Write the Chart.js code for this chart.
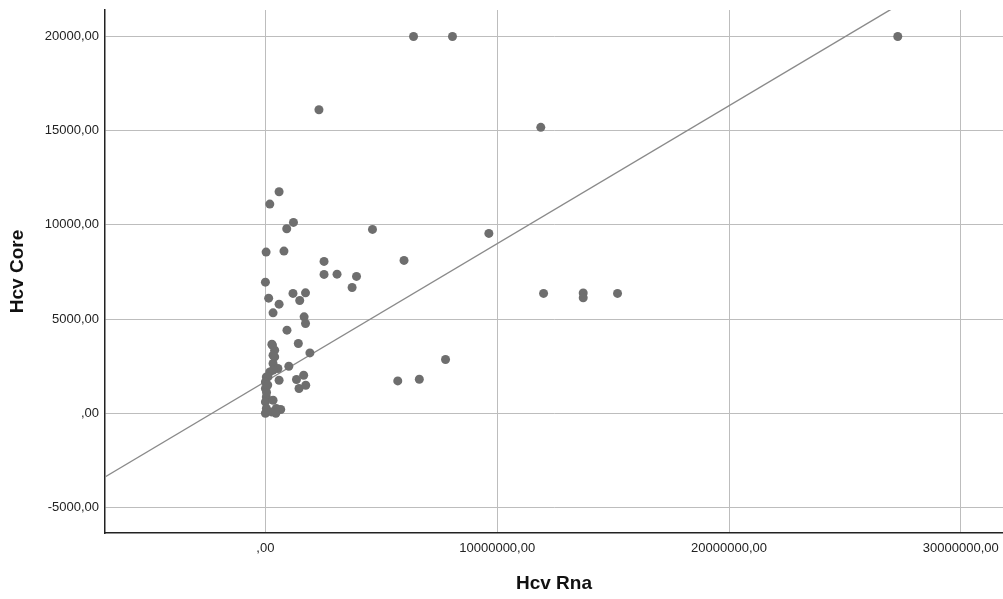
<!DOCTYPE html>
<html>
<head>
<meta charset="utf-8">
<script src="https://cdn.jsdelivr.net/npm/chart.js@4/dist/chart.umd.min.js"></script>
<style>
  body { margin: 0; background: #fff; }
  #wrap { width: 1003px; height: 599px; position: relative; }
</style>
</head>
<body>
<div id="wrap"><canvas id="canvas"></canvas></div>
<script>
// Hcv Rna (x) against Hcv Core (y)
var hcvRna = [
  6390000, 8070000, 27280000, 11880000, 2310000, 4620000, 9640000, 5980000, 3930000, 3740000,
  12000000, 13710000, 13710000, 15190000, 5710000, 6640000, 7770000, 590000, 190000, 1210000,
  920000, 30000, 800000, 2530000, 2530000, 3090000, 0, 1190000, 1730000, 1480000,
  140000, 590000, 330000, 1670000, 1730000, 930000, 280000, 1420000, 400000, 1920000,
  400000, 330000, 1010000, 540000, 190000, 40000, 590000, 1340000, 1650000, 1450000,
  1740000, 300000, 330000, 330000, 110000, 0, 0, 40000, 0, 330000,
  40000, 470000, 660000, 0, 260000, 450000, 100000, 50000
];
var hcvCore = [
  20000, 20000, 20000, 15180, 16115, 9760, 9548, 8113, 7263, 6678,
  6360, 6390, 6130, 6360, 1716, 1806, 2853, 11758, 11104, 10132,
  9792, 8554, 8607, 8060, 7369, 7385, 6960, 6360, 6392, 5988,
  6110, 5791, 5329, 5116, 4766, 4410, 3666, 3703, 3347, 3204,
  2991, 2640, 2497, 2375, 2194, 1929, 1753, 1790, 2019, 1312,
  1488, 3613, 3081, 2285, 1929, 1663, 1312, 866, 600, 690,
  248, 248, 195, 0, 69, 0, 1500, 1100
];

// fit line: y = a + b*x
var fitIntercept = 1683;
var fitSlope = 0.0007322;

var xTicks = [0, 10000000, 20000000, 30000000];
var xTickLabels = [',00', '10000000,00', '20000000,00', '30000000,00'];
var yTicks = [-5000, 0, 5000, 10000, 15000, 20000];
var yTickLabels = ['-5000,00', ',00', '5000,00', '10000,00', '15000,00', '20000,00'];

var xMin = -6920000, xMax = 31820000;
var yMin = -6360, yMax = 21410;

var points = hcvRna.map(function(v, i) {
  return { x: v, y: hcvCore[i] };
});
var fitLine = [xMin, xMax].map(function(x) {
  return { x: x, y: fitIntercept + fitSlope * x };
});

Chart.defaults.font.family = "'Liberation Sans', Arial, sans-serif";

const ctx = document.getElementById('canvas');
const myChart = new Chart(ctx, {
  type: 'scatter',
  data: {
    datasets: [{
      label: 'Hcv Core',
      data: points,
      backgroundColor: '#6e6e6e',
      borderWidth: 0,
      pointRadius: 4.5,
      pointHoverRadius: 4.5
    }, {
      type: 'line',
      label: 'fit',
      data: fitLine,
      borderColor: '#8a8a8a',
      borderWidth: 1.4,
      pointRadius: 0,
      fill: false
    }]
  },
  options: {
    responsive: true,
    maintainAspectRatio: false,
    animation: false,
    layout: { autoPadding: false, padding: { left: 0, right: 0, top: 10, bottom: 0 } },
    plugins: {
      legend: { display: false },
      tooltip: { enabled: false }
    },
    scales: {
      x: {
        type: 'linear',
        min: xMin,
        max: xMax,
        afterBuildTicks: function(axis) {
          axis.ticks = xTicks.map(function(v) { return { value: v }; });
        },
        afterFit: function(axis) {
          axis.height = 66;
          axis.paddingLeft = 0;
          axis.paddingRight = 0;
        },
        ticks: {
          padding: 8,
          color: '#222',
          font: { size: 13 },
          maxRotation: 0,
          callback: function(v) { return xTickLabels[xTicks.indexOf(v)]; }
        },
        grid: { color: '#bdbdbd', lineWidth: 1, drawTicks: false },
        border: { display: true, color: '#222', width: 1.5 },
        title: {
          display: true,
          text: 'Hcv Rna',
          color: '#111',
          font: { size: 19, weight: 'bold' },
          padding: { top: 0, bottom: 4 }
        }
      },
      y: {
        type: 'linear',
        min: yMin,
        max: yMax,
        afterBuildTicks: function(axis) {
          axis.ticks = yTicks.map(function(v) { return { value: v }; });
        },
        afterFit: function(axis) {
          axis.width = 105;
          axis.paddingTop = 0;
          axis.paddingBottom = 0;
        },
        ticks: {
          padding: 6,
          color: '#222',
          font: { size: 13 },
          callback: function(v) { return yTickLabels[yTicks.indexOf(v)]; }
        },
        grid: { color: '#bdbdbd', lineWidth: 1, drawTicks: false },
        border: { display: true, color: '#222', width: 1.5 },
        title: {
          display: true,
          text: 'Hcv Core',
          color: '#111',
          font: { size: 19, weight: 'bold' },
          padding: { top: 6, bottom: 0 }
        }
      }
    }
  }
});
</script>
</body>
</html>
